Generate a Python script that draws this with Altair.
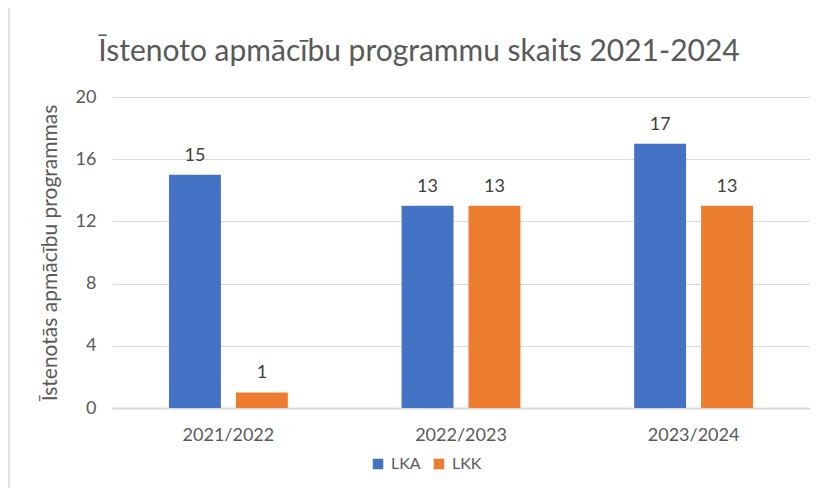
import altair as alt
import pandas as pd

years = ["2021/2022", "2022/2023", "2023/2024"]
series = ["LKA", "LKK"]
lka = [15, 13, 17]
lkk = [1, 13, 13]
colors = ["#4472C4", "#ED7D31"]
y_ticks = [0, 4, 8, 12, 16, 20]
title_text = "Īstenoto apmācību programmu skaits 2021-2024"

rows = []
for i, yr in enumerate(years):
    rows.append({"year": yr, "series": "LKA", "value": lka[i]})
    rows.append({"year": yr, "series": "LKK", "value": lkk[i]})
df = pd.DataFrame(rows)

FONT = "Lato"
GRAY = "#595959"
W, H = 698, 311

x = alt.X("year:N", sort=years,
          scale=alt.Scale(paddingInner=0.489, paddingOuter=0.245),
          axis=alt.Axis(title=None, labelAngle=0, ticks=False, domainColor="#D9D9D9",
                        domainWidth=2, labelFontSize=18, labelColor=GRAY,
                        labelPadding=18, labelFont=FONT))
xo = alt.XOffset("series:N", sort=series,
                 scale=alt.Scale(paddingInner=0.224, paddingOuter=0))
y = alt.Y("value:Q", scale=alt.Scale(domain=[0, 20]),
          axis=alt.Axis(title="Īstenotās apmācību programmas", values=y_ticks,
                        domain=False, ticks=False, gridColor="#D9D9D9",
                        labelFontSize=18, labelColor=GRAY, labelFont=FONT,
                        labelPadding=16, titleFont=FONT, titleFontSize=21,
                        titleColor=GRAY, titleFontWeight="normal", titlePadding=15))
color = alt.Color("series:N", sort=series,
                  scale=alt.Scale(domain=series, range=colors),
                  legend=alt.Legend(title=None, orient="none", legendX=258, legendY=359,
                                    direction="horizontal", symbolType="square",
                                    symbolSize=110, symbolStrokeWidth=0,
                                    labelFontSize=16, labelFont=FONT, labelColor=GRAY,
                                    columnPadding=10, labelOffset=5))

border = alt.Chart(pd.DataFrame({"a": [0]})).mark_rect(
    fillOpacity=0, stroke="#D9D9D9", strokeWidth=1.5
).encode(x=alt.value(-103), x2=alt.value(W + 60), y=alt.value(-92), y2=alt.value(H + 300))

title = alt.Chart(pd.DataFrame({"t": [title_text]})).mark_text(
    font=FONT, fontSize=30, color=GRAY, align="center", baseline="alphabetic"
).encode(text="t:N", x=alt.value(W / 2 - 42), y=alt.value(-36))

base = alt.Chart(df)
bars = base.mark_bar().encode(x=x, xOffset=xo, y=y, color=color)
labels = base.mark_text(baseline="bottom", dy=-10, fontSize=18, font=FONT, color="#404040").encode(
    x=x, xOffset=xo, y=y, text="value:Q")

chart = alt.layer(border, title, bars, labels).properties(
    width=W, height=H,
    autosize=alt.AutoSizeParams(type="none"),
    padding={"left": 104, "top": 89, "right": 0, "bottom": 80},
).configure_view(stroke=None)

chart.save("out.html", embed_options={"renderer": "svg", "actions": False})
